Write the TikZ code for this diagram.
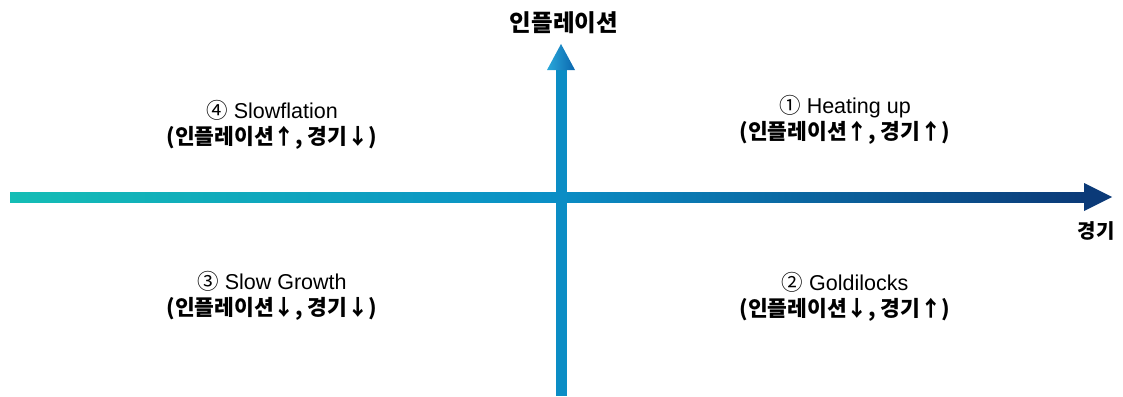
\documentclass[tikz,border=0pt]{standalone}
\usepackage{fontspec}
\setmainfont{Liberation Sans}
\newfontfamily\kr{Noto Sans CJK KR}
\usetikzlibrary{shapes.geometric}
\definecolor{teal1}{HTML}{14BDB5}
\definecolor{midblue}{HTML}{0A8FC6}
\definecolor{navy}{HTML}{0B3A78}
\definecolor{vbar}{HTML}{0B8DC5}
\definecolor{headL}{HTML}{2AA8DA}
\definecolor{headR}{HTML}{0A66AE}
\tikzset{
  quad/.style={align=center, font=\fontsize{21.5}{26}\selectfont, text=black, inner sep=0pt},
  axlabel/.style={font=\kr\bfseries\fontsize{20}{22}\selectfont, text=black, inner sep=0pt}
}
\newcommand{\K}[1]{{\kr #1}}
\begin{document}
\begin{tikzpicture}[x=1pt,y=-1pt]
\useasboundingbox (0,0) rectangle (1123,396);
% axis coordinates
\coordinate (hL) at (10,197);
\coordinate (hE) at (1084,197);
\coordinate (hT) at (1112,197);
\coordinate (vB) at (561,396);
\coordinate (vE) at (561,70);
\coordinate (vT) at (561,44);
% horizontal axis
\shade[left color=teal1, right color=navy, middle color=midblue]
  ([yshift=-5pt]hL) rectangle ([yshift=5pt]hE);
\fill[navy] ([yshift=-14pt]hE) -- (hT) -- ([yshift=14pt]hE) -- cycle;
% vertical axis
\fill[vbar] ([xshift=-5.5pt]vB) rectangle ([xshift=5.5pt]vE);
\shade[left color=headL, right color=headR] ([xshift=-14pt]vE) -- (vT) -- ([xshift=14pt]vE) -- cycle;
% labels
\node[axlabel, font=\kr\bfseries\fontsize{23.5}{25}\selectfont] (ylab) at (564,23) {인플레이션};
\node[axlabel] (xlab) at (1096,231) {경기};
\node[quad] (q1) at (845,120) {\K{①} Heating up\\\K{\bfseries (인플레이션↑, 경기↑)}};
\node[quad] (q4) at (272,125) {\K{④} Slowflation\\\K{\bfseries (인플레이션↑, 경기↓)}};
\node[quad] (q3) at (272,296) {\K{③} Slow Growth\\\K{\bfseries (인플레이션↓, 경기↓)}};
\node[quad] (q2) at (845,297) {\K{②} Goldilocks\\\K{\bfseries (인플레이션↓, 경기↑)}};
\end{tikzpicture}
\end{document}
